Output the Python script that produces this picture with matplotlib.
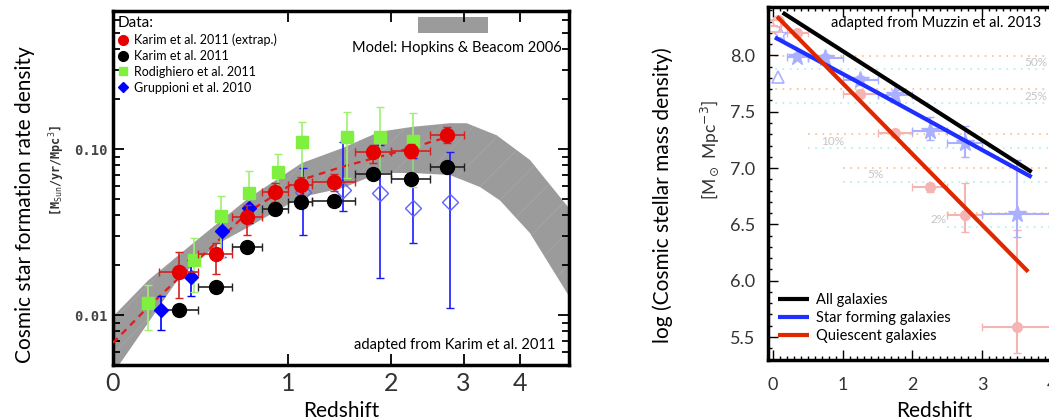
import matplotlib
matplotlib.use("Agg")
import matplotlib.pyplot as plt
import numpy as np
from matplotlib.patches import Rectangle
from matplotlib.ticker import FixedLocator, LogLocator, NullFormatter, MultipleLocator

plt.rcParams['font.family'] = ['Lato', 'DejaVu Sans']
plt.rcParams['hatch.linewidth'] = 0.5

# ---------------- star formation rate density (left) ----------------
# Karim et al. 2011 redshift bins
bin_lo = [0.2, 0.4, 0.6, 0.8, 1.0, 1.2, 1.6, 2.0, 2.5]
bin_hi = [0.4, 0.6, 0.8, 1.0, 1.2, 1.6, 2.0, 2.5, 3.0]
karim_z = [0.3, 0.5, 0.7, 0.9, 1.1, 1.4, 1.8, 2.25, 2.75]
extrap = [0.0182, 0.0233, 0.0389, 0.0551, 0.0607, 0.0633, 0.096, 0.0973, 0.1214]
extrap_lo = [0.0127, 0.0177, 0.0304, 0.048, 0.0529, 0.056, 0.0823, 0.088, 0.109]
extrap_hi = [0.0239, 0.0271, 0.046, 0.0624, 0.0678, 0.071, 0.106, 0.107, 0.136]
karim = [0.0107, 0.01475, 0.0257, 0.0435, 0.048, 0.0486, 0.0707, 0.066, 0.078]
karim_lo = [0.0101, 0.0139, 0.0242, 0.041, 0.0452, 0.0458, 0.0666, 0.0622, 0.0735]
karim_hi = [0.0113, 0.0156, 0.0272, 0.046, 0.0508, 0.0514, 0.0748, 0.0698, 0.0825]

# Rodighiero et al. 2011
rod_z = [0.15, 0.38, 0.53, 0.71, 0.92, 1.11, 1.52, 1.88, 2.28]
rod = [0.0118, 0.0214, 0.0395, 0.0543, 0.0727, 0.110, 0.118, 0.118, 0.112]
rod_lo = [0.0081, 0.0138, 0.0224, 0.0373, 0.0543, 0.068, 0.067, 0.0717, 0.059]
rod_hi = [0.0152, 0.0291, 0.052, 0.0737, 0.0933, 0.145, 0.167, 0.179, 0.165]

# Gruppioni et al. 2010 (filled: low z, open: high z)
grp_z = [0.21, 0.36, 0.54, 0.71]
grp = [0.0107, 0.0169, 0.032, 0.0441]
grp_lo = [0.0081, 0.013, 0.0224, 0.036]
grp_hi = [0.013, 0.0214, 0.0373, 0.052]
grph_z = [1.12, 1.48, 1.87, 2.28, 2.79]
grph = [0.0551, 0.0566, 0.0543, 0.0441, 0.048]
grph_lo = [0.0303, 0.0423, 0.0167, 0.0271, 0.011]
grph_hi = [0.0768, 0.110, 0.1057, 0.0883, 0.096]

# Hopkins & Beacom 2006 band
hb_up_z = [0, 0.15, 0.38, 0.71, 1.11, 1.48, 1.87, 2.27, 2.79, 3.05, 3.56, 4.2, 5.07]
hb_up = [0.0098, 0.0162, 0.0275, 0.0507, 0.0823, 0.1014, 0.127, 0.136, 0.143, 0.143,
         0.121, 0.086, 0.044]
hb_lo_z = [0.0, 0.024, 0.15, 0.30, 0.52, 0.71, 0.92, 1.11, 1.48, 1.87, 2.27, 2.79,
           3.27, 3.62, 4.2, 5.07]
hb_lo = [0.004, 0.005, 0.0090, 0.0169, 0.0271, 0.0339, 0.0429, 0.0514, 0.0582, 0.0717,
         0.0717, 0.0697, 0.059, 0.049, 0.0312, 0.0130]

# fit to the extrapolated points
fit_z = [0, 0.15, 0.38, 0.71, 1.06, 1.48, 2.0, 2.54, 2.7]
fit = [0.0068, 0.0112, 0.0205, 0.0419, 0.0636, 0.0783, 0.0937, 0.111, 0.116]

# ---------------- stellar mass density (right) ----------------
sf_z = [0.35, 0.75, 1.25, 1.75, 2.25, 2.75, 3.5]
sf_zlo = [0.2, 0.5, 1.0, 1.5, 2.0, 2.5, 3.0]
sf_zhi = [0.5, 1.0, 1.5, 2.0, 2.5, 3.0, 4.0]
sf_rho = [7.99, 7.98, 7.78, 7.65, 7.33, 7.22, 6.59]
sf_lo = [7.96, 7.95, 7.74, 7.61, 7.25, 7.10, 6.39]
sf_hi = [8.02, 8.01, 7.82, 7.69, 7.45, 7.37, 7.07]

q_z = [0.35, 1.25, 1.75, 2.25, 2.75, 3.5]
q_zlo = [0.2, 1.0, 1.5, 2.0, 2.5, 3.0]
q_zhi = [0.5, 1.5, 2.0, 2.5, 3.0, 4.0]
q_rho = [8.20, 7.655, 7.31, 6.83, 6.58, 5.59]
q_lo = [8.17, 7.62, 7.28, 6.79, 6.43, 5.36]
q_hi = [8.23, 7.69, 7.34, 6.87, 6.87, 6.45]

all_fit_z = [0.14, 3.71]
all_fit = [8.38, 6.965]
sf_fit_z = [0.03, 1.44, 3.71]
sf_fit = [8.16, 7.69, 6.92]
q_fit_z = [0.06, 3.66]
q_fit = [8.345, 6.08]

# local (z=0) densities and the fractions marked by dotted lines
rho0_q = 8.30
rho0_sf = 8.18
fractions = [0.5, 0.25, 0.1, 0.05, 0.02]
frac_labels = ['50%', '25%', '10%', '5%', '2%']
frac_start = [-0.07, -0.07, 0.5, 1.0, 2.5]
frac_label_z = [3.77, 3.77, 0.85, 1.47, 2.37]

RED = '#e60000'
GREEN = '#80f040'
BLUE = '#0000ff'
PINK = '#f4b4b4'
LBLUE = '#aab0ff'

fig = plt.figure(figsize=(10.49, 4.19), dpi=100)

# ================= left panel =================
ax = fig.add_axes([113 / 1049, 54 / 419, 456 / 1049, 354 / 419])
ax.set_xscale('function', functions=(lambda z: np.log10(1 + z), lambda u: 10 ** u - 1))
ax.set_yscale('log')
ax.set_xlim(0, 5.07)
ax.set_ylim(0.005, 0.678)

band_z = list(hb_up_z) + list(hb_lo_z[::-1])
band_v = list(hb_up) + list(hb_lo[::-1])
ax.fill(band_z, band_v, facecolor='#9b9b9b', edgecolor='#a8a8a8', lw=0,
        hatch='/', zorder=1)

ax.plot(fit_z, fit, ls=(0, (3, 2.5)), color='#e31a1c', lw=1.6, zorder=3)


def yerr(v, lo, hi):
    v = np.array(v)
    return [v - np.array(lo), np.array(hi) - v]


def xerr(z, lo, hi):
    z = np.array(z)
    return [z - np.array(lo), np.array(hi) - z]


# Gruppioni high-z (open)
ax.errorbar(grph_z, grph, yerr=yerr(grph, grph_lo, grph_hi), fmt='none',
            ecolor='#1a1aff', elinewidth=1.2, capsize=3, zorder=2)
ax.plot(grph_z, grph, 'D', ms=8, mfc='none', mec='#6060ff', mew=1.0, zorder=2)

# Gruppioni low-z
ax.errorbar(grp_z, grp, yerr=yerr(grp, grp_lo, grp_hi), fmt='none',
            ecolor=BLUE, elinewidth=1.2, capsize=3, zorder=4)
# Rodighiero
ax.errorbar(rod_z, rod, yerr=yerr(rod, rod_lo, rod_hi), fmt='none',
            ecolor='#a0f070', elinewidth=1.2, capsize=3, zorder=4)
# Karim
ax.errorbar(karim_z, karim, xerr=xerr(karim_z, bin_lo, bin_hi),
            yerr=yerr(karim, karim_lo, karim_hi), fmt='none',
            ecolor='#222222', elinewidth=1.2, capsize=3, zorder=5)
ax.errorbar(karim_z, extrap, xerr=xerr(karim_z, bin_lo, bin_hi),
            yerr=yerr(extrap, extrap_lo, extrap_hi), fmt='none',
            ecolor='#d42020', elinewidth=1.2, capsize=3, zorder=6)

h_ex, = ax.plot(karim_z, extrap, 'o', ms=10, color=RED, mec=RED, zorder=7,
                label='Karim et al. 2011 (extrap.)')
h_k, = ax.plot(karim_z, karim, 'o', ms=10, color='black', zorder=6,
               label='Karim et al. 2011')
h_r, = ax.plot(rod_z, rod, 's', ms=8, color=GREEN, mec=GREEN, zorder=5,
               label='Rodighiero et al. 2011')
h_g, = ax.plot(grp_z, grp, 'D', ms=7.5, color=BLUE, mec=BLUE, zorder=5,
               label='Gruppioni et al. 2010')

ax.legend(handles=[h_ex, h_k, h_r, h_g], loc='upper left', frameon=False,
          title='Data:', alignment='left', fontsize=9, title_fontsize=11,
          handlelength=0.8, handletextpad=0.5, labelspacing=0.3,
          borderaxespad=0.2, borderpad=0.2, markerscale=0.7)

ax.add_patch(Rectangle((0.669, 0.938), 0.153, 0.045, transform=ax.transAxes,
                       facecolor='#9b9b9b', edgecolor='none'))
ax.text(0.985, 0.895, 'Model: Hopkins & Beacom 2006', transform=ax.transAxes,
        ha='right', va='center', fontsize=10.5)
ax.text(0.97, 0.057, 'adapted from Karim et al. 2011', transform=ax.transAxes,
        ha='right', va='center', fontsize=10.5)

ax.xaxis.set_major_locator(FixedLocator([0, 1, 2, 3, 4]))
ax.xaxis.set_minor_locator(FixedLocator([]))
ax.set_xticklabels(['0', '1', '2', '3', '4'], fontsize=18, color='#333333')
ax.yaxis.set_major_locator(FixedLocator([0.01, 0.1]))
ax.yaxis.set_minor_locator(LogLocator(base=10, subs=np.arange(2, 10)))
ax.yaxis.set_minor_formatter(NullFormatter())
ax.set_yticklabels(['0.01', '0.10'], family='DejaVu Sans Mono', fontweight='bold',
                   fontsize=10, color='#444444')
ax.tick_params(which='both', direction='in', top=True, right=True, width=1.3)
ax.tick_params(which='major', length=8)
ax.tick_params(which='minor', length=5)
ax.tick_params(axis='x', pad=5)
ax.tick_params(axis='y', pad=4)
for s in ax.spines.values():
    s.set_linewidth(2.5)

ax.set_xlabel('Redshift', fontsize=15, labelpad=4)
fig.text(25 / 1049, 1 - 205 / 419, 'Cosmic star formation rate density', rotation=90,
         ha='center', va='center', fontsize=15)
fig.text(57 / 1049, 1 - 170 / 419, r'[M$_{\mathtt{Sun}}$/yr/Mpc$^{\mathtt{3}}$]',
         rotation=90, ha='center', va='center', family='DejaVu Sans Mono',
         fontweight='bold', fontsize=8.5, color='#333333')

# ================= right panel =================
bx = fig.add_axes([768 / 1049, 59 / 419, 332 / 1049, 353 / 419])
bx.set_xlim(-0.07, 4.69)
bx.set_ylim(5.296, 8.43)

for f, lab, z0, zl in zip(fractions, frac_labels, frac_start, frac_label_z):
    yq = rho0_q + np.log10(f)
    ys = rho0_sf + np.log10(f)
    bx.plot([z0, 4.69], [yq, yq], ls=(0, (1, 3)), color='#f7c998', lw=1.3, zorder=1)
    bx.plot([z0, 4.69], [ys, ys], ls=(0, (1, 3)), color='#b5f0f5', lw=1.3, zorder=1)
    bx.text(zl, (yq + ys) / 2, lab, ha='center', va='center', fontsize=8.5,
            color='#c4c4c4', zorder=1)

bx.errorbar(q_z, q_rho, xerr=xerr(q_z, q_zlo, q_zhi), yerr=yerr(q_rho, q_lo, q_hi),
            fmt='o', ms=7, color=PINK, ecolor=PINK, elinewidth=1.5, capsize=3, zorder=2)
bx.errorbar(sf_z, sf_rho, xerr=xerr(sf_z, sf_zlo, sf_zhi),
            yerr=yerr(sf_rho, sf_lo, sf_hi), fmt='*', ms=13, color=LBLUE,
            ecolor=LBLUE, elinewidth=1.5, capsize=3, zorder=2)
# local measurements
bx.plot([0.07], [8.31], 'o', ms=8, mfc='none', mec=PINK, mew=1.3, zorder=2)
bx.errorbar([0.03], [8.26], xerr=[[0.05], [0.05]], fmt='s', ms=8, mfc='none',
            mec=PINK, ecolor=PINK, mew=1.3, zorder=2)
bx.plot([0.1], [8.19], '*', ms=11, mfc='none', mec=LBLUE, mew=1.0, zorder=2)
bx.plot([0.07], [7.81], '^', ms=9, mfc='none', mec=LBLUE, mew=1.2, zorder=2)

bx.plot(all_fit_z, all_fit, color='black', lw=3, solid_capstyle='butt', zorder=3,
        label='All galaxies')
bx.plot(sf_fit_z, sf_fit, color='#1f2fff', lw=3, solid_capstyle='butt', zorder=3,
        label='Star forming galaxies')
bx.plot(q_fit_z, q_fit, color='#e02800', lw=3, solid_capstyle='butt', zorder=3,
        label='Quiescent galaxies')
bx.legend(loc='lower left', frameon=False, fontsize=10.5, handlelength=2.1,
          handletextpad=0.5, labelspacing=0.25, borderaxespad=0.3,
          bbox_to_anchor=(0.0, 0.02))

bx.text(0.19, 0.955, 'adapted from Muzzin et al. 2013', transform=bx.transAxes,
        ha='left', va='center', fontsize=10.5)

bx.xaxis.set_major_locator(MultipleLocator(1))
bx.xaxis.set_minor_locator(MultipleLocator(0.1))
bx.yaxis.set_major_locator(MultipleLocator(0.5))
bx.yaxis.set_minor_locator(MultipleLocator(0.1))
bx.tick_params(which='both', direction='in', top=True, right=False, width=1.0,
               labelsize=13, labelcolor='#333333')
bx.tick_params(which='major', length=7)
bx.tick_params(which='minor', length=3)
bx.tick_params(axis='x', pad=12)
bx.tick_params(axis='y', pad=9)
for s in bx.spines.values():
    s.set_linewidth(2.5)

bx.set_xlabel('Redshift', fontsize=15, labelpad=6)
fig.text(663 / 1049, 1 - 195 / 419, 'log (Cosmic stellar mass density)', rotation=90,
         ha='center', va='center', fontsize=15)
fig.text(710 / 1049, 1 - 150 / 419, r'[M$_\odot$ Mpc$^{-3}$]', rotation=90,
         ha='center', va='center', fontsize=12.5, color='#333333')

fig.savefig('out.png', dpi=100)
